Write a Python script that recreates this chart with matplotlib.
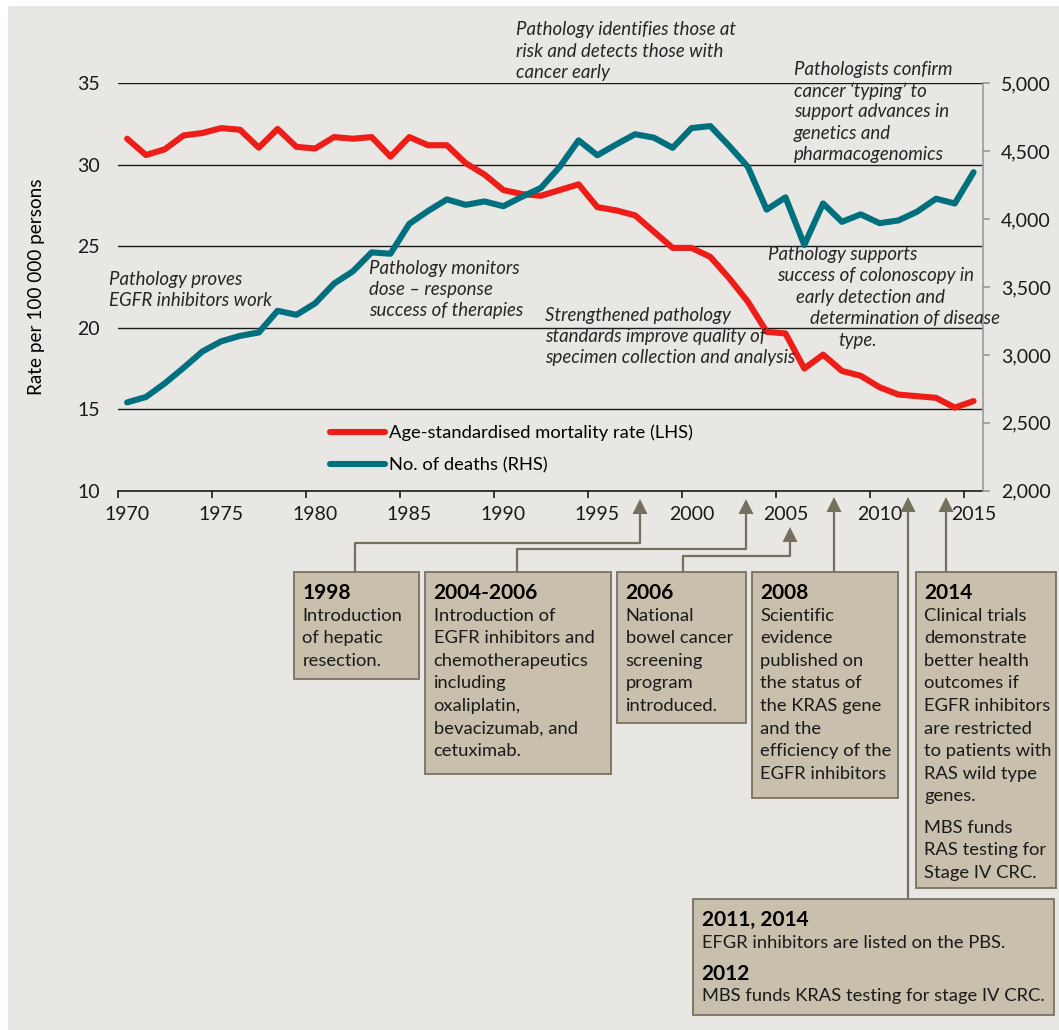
import matplotlib
matplotlib.use('Agg')
import matplotlib.pyplot as plt
from matplotlib.patches import Rectangle, Polygon
from matplotlib.lines import Line2D
from matplotlib.ticker import FixedLocator, NullFormatter, FixedFormatter

W, H = 1059, 1030

# data
years = list(range(1970, 2016))
mortality_rate = [31.6, 30.6, 30.95, 31.8, 31.95, 32.25, 32.15, 31.05, 32.2, 31.1,
                  31.0, 31.7, 31.6, 31.7, 30.5, 31.7, 31.2, 31.2, 30.1, 29.4,
                  28.45, 28.2, 28.1, 28.45, 28.8, 27.4, 27.2, 26.9, 25.9, 24.9,
                  24.9, 24.35, 23.05, 21.6, 19.75, 19.65, 17.5, 18.35, 17.35, 17.05,
                  16.35, 15.9, 15.8, 15.7, 15.1, 15.5]
deaths = [2650, 2690, 2790, 2905, 3025, 3100, 3140, 3165, 3325, 3295,
          3380, 3525, 3615, 3755, 3745, 3965, 4060, 4145, 4105, 4130,
          4095, 4165, 4230, 4385, 4580, 4470, 4550, 4625, 4600, 4525,
          4670, 4685, 4540, 4385, 4070, 4160, 3810, 4115, 3980, 4035,
          3970, 3990, 4055, 4150, 4115, 4345]
label_years = list(range(1970, 2016, 5))
left_ticks = [10, 15, 20, 25, 30, 35]
right_ticks = [2000, 2500, 3000, 3500, 4000, 4500, 5000]
series_names = ['Age-standardised mortality rate (LHS)', 'No. of deaths (RHS)']

RED = '#EE1D17'
TEAL = '#00707E'
BG = '#E8E7E3'
BOX_FILL = '#C8C0AD'
BOX_EDGE = '#7A7160'
ARROW = '#776F5E'
NOTE = '#262626'

plt.rcParams['font.family'] = ['Lato', 'DejaVu Sans']


def px(x, y):
    return x / W, 1 - y / H


fig = plt.figure(figsize=(W / 100, H / 100), dpi=100, facecolor='white')
fig.patches.append(Rectangle(px(8, H), (W - 8) / W, (H - 6) / H, transform=fig.transFigure,
                             facecolor=BG, edgecolor='none', zorder=-10))

ax_w = 983 - 117.7
ax = fig.add_axes([117.7 / W, 1 - 490.7 / H, ax_w / W, (490.7 - 83.3) / H])
ax.set_facecolor('none')
ax2 = ax.twinx()
ax2.set_facecolor('none')

l1, = ax.plot(years, mortality_rate, color=RED, lw=4.4, solid_capstyle='round',
              solid_joinstyle='round', zorder=3)
l2, = ax2.plot(years, deaths, color=TEAL, lw=4.4, solid_capstyle='round',
               solid_joinstyle='round', zorder=3)

ax.set_xlim(1969.5, 2015.5)
ax.set_ylim(10, 35)
ax2.set_ylim(2000, 5000)

# gridlines from the left axis
for v in left_ticks[1:]:
    ax.axhline(v, color='#1a1a1a', lw=1.0, zorder=1)

ax.set_yticks(left_ticks)
ax.tick_params(axis='y', length=0, pad=13, labelsize=14, labelcolor='#1a1a1a')
ax.xaxis.set_major_locator(FixedLocator([y - 0.5 for y in label_years]))
ax.xaxis.set_major_formatter(NullFormatter())
ax.xaxis.set_minor_locator(FixedLocator(label_years))
ax.xaxis.set_minor_formatter(FixedFormatter([str(y) for y in label_years]))
ax.tick_params(axis='x', which='major', length=5, width=1.2, color='#1a1a1a', direction='out')
ax.tick_params(axis='x', which='minor', length=0, pad=11, labelsize=14, labelcolor='#1a1a1a')

ax2.set_yticks(right_ticks)
ax2.set_yticklabels([f'{v:,}' for v in right_ticks])
ax2.tick_params(axis='y', length=5, width=1.2, color='#9a9a9a', pad=8,
                labelsize=14, labelcolor='#1a1a1a')

for a in (ax, ax2):
    for s in ('top', 'left', 'right', 'bottom'):
        a.spines[s].set_visible(False)
ax.spines['bottom'].set_visible(True)
ax.spines['bottom'].set_color('#1a1a1a')
ax.spines['bottom'].set_linewidth(1.2)
ax2.spines['right'].set_visible(True)
ax2.spines['right'].set_color('#9a9a9a')
ax2.spines['right'].set_linewidth(1.2)

ax.set_ylabel('Rate per 100 000 persons', fontsize=13.6, color='black')
ax.yaxis.set_label_coords((45 - 117.7) / ax_w, 0.5)

fig.legend(handles=[l1, l2], labels=series_names, loc='center left',
           bbox_to_anchor=px(330, 449), frameon=False, borderpad=0, borderaxespad=0,
           handlelength=3.0, handletextpad=0.22, labelspacing=0.85, fontsize=13.2)

# italic commentary on the chart
notes = [
    (109, 279, ['Pathology proves', 'EGFR inhibitors work']),
    (369, 268.5, ['Pathology monitors', 'dose \u2013 response', 'success of therapies']),
    (516, 30, ['Pathology identifies those at', 'risk and detects those with', 'cancer early']),
    (545, 315, ['Strengthened pathology', 'standards improve quality of',
                'specimen collection and analysis']),
    (794, 69.5, ['Pathologists confirm', 'cancer \u2018typing\u2019 to', 'support advances in',
                 'genetics and', 'pharmacogenomics']),
]
for x, y, lines in notes:
    for i, t in enumerate(lines):
        fig.text(*px(x, y + i * 21.2), t, fontsize=13.4, style='italic', color=NOTE,
                 va='center', ha='left', zorder=5)

colon_lines = [(768, 'Pathology supports'), (777, 'success of colonoscopy in'),
               (796, 'early detection and'), (810, 'determination of disease'), (838, 'type.')]
for i, (x, t) in enumerate(colon_lines):
    fig.text(*px(x, 254.5 + i * 21.4), t, fontsize=13.4, style='italic', color=NOTE,
             va='center', ha='left', zorder=5)

# connectors: (start x, start y, elbow y, tip x, tip y)
connectors = [
    (355, 572, 543, 640, 499),
    (517, 572, 549, 746, 499),
    (683, 572, 556, 790, 527),
    (834, 572, None, 834, 497),
    (908, 899, None, 908, 497),
    (946, 572, None, 946, 497),
]
for sx, sy, ey, tx, ty in connectors:
    if ey is None:
        pts = [(sx, sy), (tx, ty + 12)]
    else:
        pts = [(sx, sy), (sx, ey), (tx, ey), (tx, ty + 12)]
    xs = [p[0] / W for p in pts]
    ys = [1 - p[1] / H for p in pts]
    fig.add_artist(Line2D(xs, ys, color=ARROW, lw=1.6, transform=fig.transFigure, zorder=6))
    tri = [px(tx, ty), px(tx - 7.5, ty + 15), px(tx + 7.5, ty + 15)]
    fig.add_artist(Polygon(tri, closed=True, facecolor=ARROW, edgecolor='none',
                           transform=fig.transFigure, zorder=6))

# event boxes: (x0, y0, x1, y1, paragraphs); a paragraph starting with a year is headed in bold
boxes = [
    (294, 572, 419, 679, [['1998', 'Introduction', 'of hepatic', 'resection.']]),
    (425, 572, 611, 774, [['2004-2006', 'Introduction of', 'EGFR inhibitors and',
                           'chemotherapeutics', 'including', 'oxaliplatin,',
                           'bevacizumab, and', 'cetuximab.']]),
    (617, 572, 746, 723, [['2006', 'National', 'bowel cancer', 'screening', 'program',
                           'introduced.']]),
    (752, 572, 898, 798, [['2008', 'Scientific', 'evidence', 'published on', 'the status of',
                           'the KRAS gene', 'and the', 'efficiency of the',
                           'EGFR inhibitors']]),
    (916, 572, 1056, 888, [['2014', 'Clinical trials', 'demonstrate', 'better health',
                            'outcomes if', 'EGFR inhibitors', 'are restricted',
                            'to patients with', 'RAS wild type', 'genes.'],
                           ['MBS funds', 'RAS testing for', 'Stage IV CRC.']]),
    (693, 899, 1054, 1015, [['2011, 2014', 'EFGR inhibitors are listed on the PBS.'],
                            ['2012', 'MBS funds KRAS testing for stage IV CRC.']]),
]
for x0, y0, x1, y1, paras in boxes:
    fig.patches.append(Rectangle(px(x0, y1), (x1 - x0) / W, (y1 - y0) / H,
                                 transform=fig.transFigure, facecolor=BOX_FILL,
                                 edgecolor=BOX_EDGE, lw=1.3, zorder=7))
    y = y0 + 21
    for para in paras:
        for li, t in enumerate(para):
            bold = li == 0 and para[0][0].isdigit()
            fig.text(*px(x0 + 8.5, y), t, fontsize=15 if bold else 13.2,
                     fontweight='bold' if bold else 'normal', color='black' if bold else '#1a1a1a',
                     va='center', ha='left', zorder=8)
            y += 22.6
        y += 8.5

fig.savefig('out.png', dpi=100, facecolor='white')
